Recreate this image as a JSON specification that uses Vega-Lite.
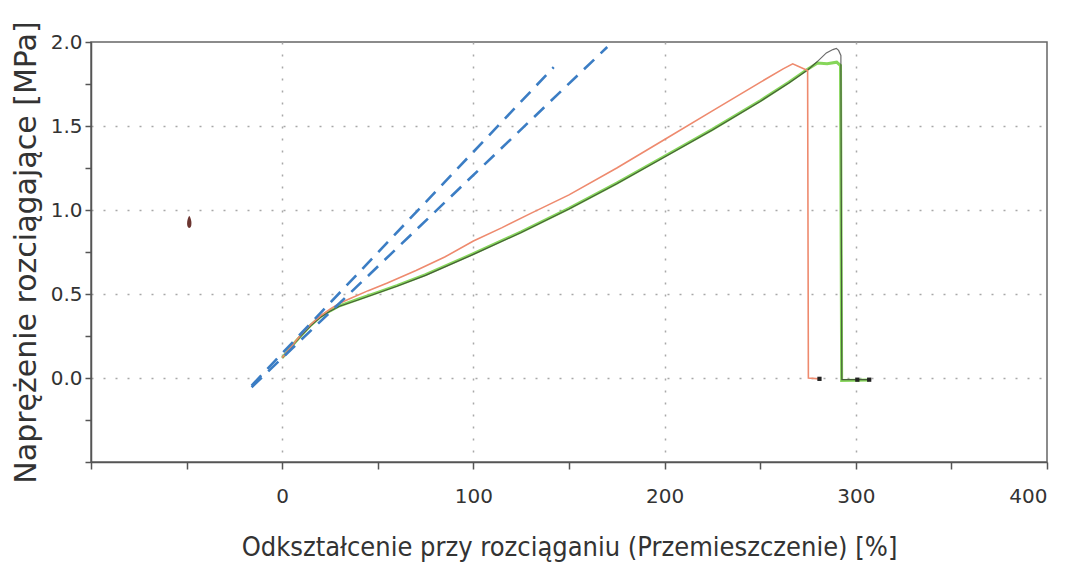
{
  "$schema": "https://vega.github.io/schema/vega-lite/v6.json",
  "width": 956,
  "height": 420,
  "autosize": {"type": "none"},
  "padding": {"left": 91, "top": 42, "right": 30, "bottom": 107},
  "background": "white",
  "config": {
    "font": "DejaVu Sans",
    "view": {"stroke": "#666666", "strokeWidth": 1.5},
    "axis": {
      "domainColor": "#555555",
      "domainWidth": 1.5,
      "tickColor": "#555555",
      "tickWidth": 1.5,
      "tickSize": 7,
      "labelFont": "DejaVu Sans",
      "labelFontSize": 20,
      "labelColor": "#333333",
      "titleColor": "#333333",
      "titleFontWeight": "normal",
      "gridColor": "#a8a8a8",
      "gridDash": [2, 10],
      "gridWidth": 1.5
    }
  },
  "datasets": {
    "krzywe": [
      {"probka": "Próbka 1", "odksztalcenie": 0, "naprezenie": 0.12},
      {"probka": "Próbka 1", "odksztalcenie": 5, "naprezenie": 0.19},
      {"probka": "Próbka 1", "odksztalcenie": 10, "naprezenie": 0.26},
      {"probka": "Próbka 1", "odksztalcenie": 15, "naprezenie": 0.32},
      {"probka": "Próbka 1", "odksztalcenie": 20, "naprezenie": 0.37},
      {"probka": "Próbka 1", "odksztalcenie": 25, "naprezenie": 0.41},
      {"probka": "Próbka 1", "odksztalcenie": 30, "naprezenie": 0.445},
      {"probka": "Próbka 1", "odksztalcenie": 35, "naprezenie": 0.47},
      {"probka": "Próbka 1", "odksztalcenie": 45, "naprezenie": 0.52},
      {"probka": "Próbka 1", "odksztalcenie": 55, "naprezenie": 0.565},
      {"probka": "Próbka 1", "odksztalcenie": 70, "naprezenie": 0.64},
      {"probka": "Próbka 1", "odksztalcenie": 85, "naprezenie": 0.72},
      {"probka": "Próbka 1", "odksztalcenie": 100, "naprezenie": 0.815},
      {"probka": "Próbka 1", "odksztalcenie": 115, "naprezenie": 0.895},
      {"probka": "Próbka 1", "odksztalcenie": 130, "naprezenie": 0.98},
      {"probka": "Próbka 1", "odksztalcenie": 150, "naprezenie": 1.09},
      {"probka": "Próbka 1", "odksztalcenie": 175, "naprezenie": 1.25},
      {"probka": "Próbka 1", "odksztalcenie": 200, "naprezenie": 1.42},
      {"probka": "Próbka 1", "odksztalcenie": 225, "naprezenie": 1.59},
      {"probka": "Próbka 1", "odksztalcenie": 250, "naprezenie": 1.76},
      {"probka": "Próbka 1", "odksztalcenie": 262, "naprezenie": 1.84},
      {"probka": "Próbka 1", "odksztalcenie": 267, "naprezenie": 1.87},
      {"probka": "Próbka 1", "odksztalcenie": 271, "naprezenie": 1.85},
      {"probka": "Próbka 1", "odksztalcenie": 274.8, "naprezenie": 1.83},
      {"probka": "Próbka 1", "odksztalcenie": 275.2, "naprezenie": 0.0},
      {"probka": "Próbka 1", "odksztalcenie": 281, "naprezenie": -0.005},

      {"probka": "Próbka 2", "odksztalcenie": 0, "naprezenie": 0.12},
      {"probka": "Próbka 2", "odksztalcenie": 5, "naprezenie": 0.19},
      {"probka": "Próbka 2", "odksztalcenie": 10, "naprezenie": 0.255},
      {"probka": "Próbka 2", "odksztalcenie": 15, "naprezenie": 0.315},
      {"probka": "Próbka 2", "odksztalcenie": 20, "naprezenie": 0.365},
      {"probka": "Próbka 2", "odksztalcenie": 25, "naprezenie": 0.4},
      {"probka": "Próbka 2", "odksztalcenie": 30, "naprezenie": 0.43},
      {"probka": "Próbka 2", "odksztalcenie": 40, "naprezenie": 0.47},
      {"probka": "Próbka 2", "odksztalcenie": 50, "naprezenie": 0.51},
      {"probka": "Próbka 2", "odksztalcenie": 60, "naprezenie": 0.55},
      {"probka": "Próbka 2", "odksztalcenie": 75, "naprezenie": 0.615},
      {"probka": "Próbka 2", "odksztalcenie": 100, "naprezenie": 0.74},
      {"probka": "Próbka 2", "odksztalcenie": 125, "naprezenie": 0.87},
      {"probka": "Próbka 2", "odksztalcenie": 150, "naprezenie": 1.01},
      {"probka": "Próbka 2", "odksztalcenie": 175, "naprezenie": 1.16},
      {"probka": "Próbka 2", "odksztalcenie": 200, "naprezenie": 1.32},
      {"probka": "Próbka 2", "odksztalcenie": 225, "naprezenie": 1.48},
      {"probka": "Próbka 2", "odksztalcenie": 250, "naprezenie": 1.65},
      {"probka": "Próbka 2", "odksztalcenie": 265, "naprezenie": 1.76},
      {"probka": "Próbka 2", "odksztalcenie": 275, "naprezenie": 1.84},
      {"probka": "Próbka 2", "odksztalcenie": 280, "naprezenie": 1.875},
      {"probka": "Próbka 2", "odksztalcenie": 285, "naprezenie": 1.87},
      {"probka": "Próbka 2", "odksztalcenie": 290, "naprezenie": 1.88},
      {"probka": "Próbka 2", "odksztalcenie": 292, "naprezenie": 1.86},
      {"probka": "Próbka 2", "odksztalcenie": 292.6, "naprezenie": -0.015},
      {"probka": "Próbka 2", "odksztalcenie": 307, "naprezenie": -0.012},

      {"probka": "Próbka 3", "odksztalcenie": 0, "naprezenie": 0.118},
      {"probka": "Próbka 3", "odksztalcenie": 5, "naprezenie": 0.188},
      {"probka": "Próbka 3", "odksztalcenie": 10, "naprezenie": 0.252},
      {"probka": "Próbka 3", "odksztalcenie": 15, "naprezenie": 0.312},
      {"probka": "Próbka 3", "odksztalcenie": 20, "naprezenie": 0.362},
      {"probka": "Próbka 3", "odksztalcenie": 25, "naprezenie": 0.397},
      {"probka": "Próbka 3", "odksztalcenie": 30, "naprezenie": 0.427},
      {"probka": "Próbka 3", "odksztalcenie": 40, "naprezenie": 0.466},
      {"probka": "Próbka 3", "odksztalcenie": 50, "naprezenie": 0.506},
      {"probka": "Próbka 3", "odksztalcenie": 60, "naprezenie": 0.546},
      {"probka": "Próbka 3", "odksztalcenie": 75, "naprezenie": 0.611},
      {"probka": "Próbka 3", "odksztalcenie": 100, "naprezenie": 0.736},
      {"probka": "Próbka 3", "odksztalcenie": 125, "naprezenie": 0.866},
      {"probka": "Próbka 3", "odksztalcenie": 150, "naprezenie": 1.006},
      {"probka": "Próbka 3", "odksztalcenie": 175, "naprezenie": 1.156},
      {"probka": "Próbka 3", "odksztalcenie": 200, "naprezenie": 1.316},
      {"probka": "Próbka 3", "odksztalcenie": 225, "naprezenie": 1.476},
      {"probka": "Próbka 3", "odksztalcenie": 250, "naprezenie": 1.646},
      {"probka": "Próbka 3", "odksztalcenie": 265, "naprezenie": 1.756},
      {"probka": "Próbka 3", "odksztalcenie": 275, "naprezenie": 1.835},
      {"probka": "Próbka 3", "odksztalcenie": 280, "naprezenie": 1.885},
      {"probka": "Próbka 3", "odksztalcenie": 284.6, "naprezenie": 1.935},
      {"probka": "Próbka 3", "odksztalcenie": 288, "naprezenie": 1.955},
      {"probka": "Próbka 3", "odksztalcenie": 289.8, "naprezenie": 1.962},
      {"probka": "Próbka 3", "odksztalcenie": 291, "naprezenie": 1.95},
      {"probka": "Próbka 3", "odksztalcenie": 292.2, "naprezenie": 1.92},
      {"probka": "Próbka 3", "odksztalcenie": 292.7, "naprezenie": -0.01},
      {"probka": "Próbka 3", "odksztalcenie": 308, "naprezenie": -0.01}
    ],
    "styczne": [
      {"linia": "A", "odksztalcenie": -16, "naprezenie": -0.045},
      {"linia": "A", "odksztalcenie": 142, "naprezenie": 1.85},
      {"linia": "B", "odksztalcenie": -16, "naprezenie": -0.055},
      {"linia": "B", "odksztalcenie": 170, "naprezenie": 1.97}
    ],
    "znaczniki": [
      {"odksztalcenie": 281, "naprezenie": -0.005},
      {"odksztalcenie": 300.8, "naprezenie": -0.01},
      {"odksztalcenie": 307, "naprezenie": -0.01}
    ],
    "plamka": [
      {"odksztalcenie": -48.6, "naprezenie": 0.93}
    ]
  },
  "encoding": {
    "x": {
      "field": "odksztalcenie",
      "type": "quantitative",
      "scale": {"domain": [-100, 400], "nice": false, "zero": false},
      "axis": {
        "title": "Odkształcenie przy rozciąganiu (Przemieszczenie) [%]",
        "titleFont": "DejaVu Sans Condensed, DejaVu Sans",
        "titleFontSize": 27,
        "titlePadding": 28,
        "values": [-100, -50, 0, 50, 100, 150, 200, 250, 300, 350, 400],
        "format": "d",
        "labelExpr": "datum.value >= 0 && datum.value % 100 === 0 ? datum.label : ''",
        "labelPadding": 17,
        "grid": true,
        "gridOpacity": {
          "condition": {"test": "datum.value > -100 && datum.value < 400 && datum.value % 100 === 0", "value": 1},
          "value": 0
        }
      }
    },
    "y": {
      "field": "naprezenie",
      "type": "quantitative",
      "scale": {"domain": [-0.5, 2.0], "nice": false, "zero": false},
      "axis": {
        "title": "Naprężenie rozciągające [MPa]",
        "titleFontSize": 30,
        "titlePadding": 9,
        "values": [-0.5, -0.25, 0, 0.25, 0.5, 0.75, 1.0, 1.25, 1.5, 1.75, 2.0],
        "labelExpr": "datum.value >= 0 && abs(datum.value * 2 - round(datum.value * 2)) < 0.001 ? format(datum.value, '.1f') : ''",
        "labelPadding": 3,
        "tickSize": 6,
        "grid": true,
        "gridOpacity": {
          "condition": {"test": "datum.value >= 0 && datum.value < 2 && abs(datum.value * 2 - round(datum.value * 2)) < 0.001", "value": 1},
          "value": 0
        }
      }
    }
  },
  "layer": [
    {
      "data": {"name": "krzywe"},
      "transform": [{"filter": "datum.probka === 'Próbka 2'"}],
      "mark": {"type": "line", "color": "#86d65a", "strokeWidth": 3},
      "encoding": {"order": {"field": "odksztalcenie", "type": "quantitative"}}
    },
    {
      "data": {"name": "krzywe"},
      "transform": [{"filter": "datum.probka === 'Próbka 3'"}],
      "mark": {"type": "line", "color": "#2b2b2b", "strokeWidth": 1.2, "opacity": 0.7},
      "encoding": {"order": {"field": "odksztalcenie", "type": "quantitative"}}
    },
    {
      "data": {"name": "krzywe"},
      "transform": [{"filter": "datum.probka === 'Próbka 1'"}],
      "mark": {"type": "line", "color": "#ee8a6e", "strokeWidth": 1.6},
      "encoding": {"order": {"field": "odksztalcenie", "type": "quantitative"}}
    },
    {
      "data": {"name": "styczne"},
      "mark": {"type": "line", "color": "#3b7dc4", "strokeWidth": 2.6, "strokeDash": [14, 9]},
      "encoding": {"detail": {"field": "linia", "type": "nominal"}}
    },
    {
      "data": {"name": "znaczniki"},
      "mark": {"type": "point", "shape": "square", "filled": true, "size": 18, "color": "#222222", "opacity": 1}
    },
    {
      "data": {"name": "plamka"},
      "mark": {
        "type": "point",
        "shape": "M0,-1 C0.45,-0.4 0.5,1 0,1 C-0.5,1 -0.45,-0.4 0,-1 Z",
        "filled": true,
        "size": 150,
        "color": "#6b3530",
        "opacity": 1
      }
    }
  ]
}
